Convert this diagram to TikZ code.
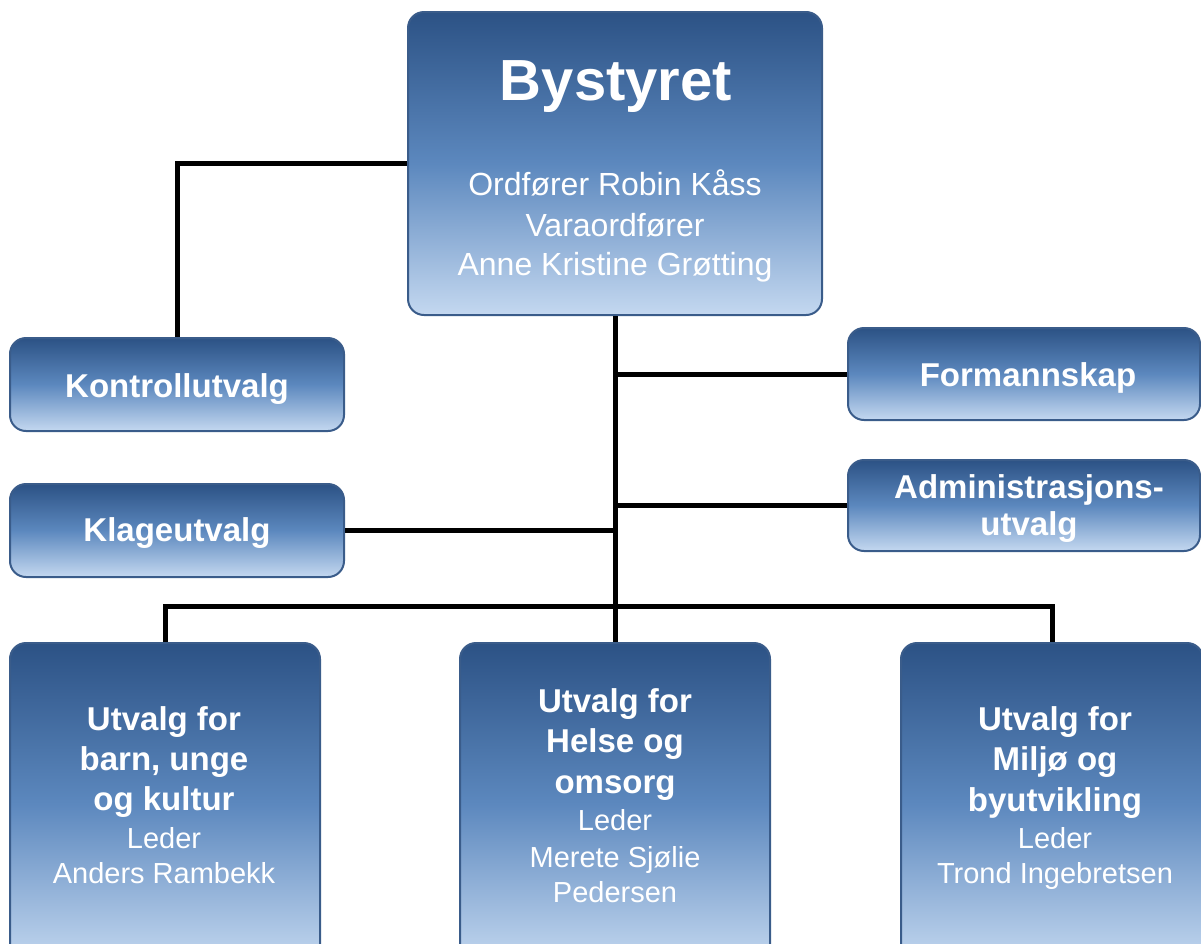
\documentclass[tikz,border=0pt]{standalone}
\usepackage{fontspec}
\setmainfont{Liberation Sans}
\definecolor{boxtop}{RGB}{44,82,133}
\definecolor{boxmid}{RGB}{92,136,190}
\definecolor{boxbot}{RGB}{196,216,240}
\definecolor{boxborder}{RGB}{58,92,138}
\newcommand\myTitle{\fontsize{58}{58}\selectfont\bfseries}
\newcommand\myBold{\fontsize{33}{33}\selectfont\bfseries}
\newcommand\myReg{\fontsize{29}{29}\selectfont}
\newcommand\myTop{\fontsize{32}{32}\selectfont}
\begin{document}
\begin{tikzpicture}[x=1pt,y=-1pt,
  box/.style={draw=boxborder, line width=2pt, rounded corners=16pt,
    top color=boxtop, bottom color=boxbot, middle color=boxmid, inner sep=0pt},
  conn/.style={draw=black, line width=5pt},
  txt/.style={text=white, inner sep=0pt, anchor=base}]
\useasboundingbox (0,0) rectangle (1201,943);
\clip (0,0) rectangle (1201,943);
% boxes
\node[box, minimum width=414pt, minimum height=303pt] (byst) at (615,163.5) {};
\node[box, minimum width=334pt, minimum height=93pt] (kontroll) at (177,384.5) {};
\node[box, minimum width=334pt, minimum height=93pt] (klage) at (177,530.5) {};
\node[box, minimum width=352pt, minimum height=92pt] (form) at (1024,374) {};
\node[box, minimum width=352pt, minimum height=91pt] (admin) at (1024,505.5) {};
\node[box, minimum width=310pt, minimum height=322pt] (left) at (165,804) {};
\node[box, minimum width=310pt, minimum height=322pt] (mid) at (615,804) {};
\node[box, minimum width=302pt, minimum height=322pt] (right) at (1052,804) {};
% connectors
\coordinate (bus) at (615,606);
\draw[conn] (byst.west) -| (kontroll.north);
\draw[conn] (byst.south) -- (mid.north);
\draw[conn] (form.west) -- (form.west -| byst.south);
\draw[conn] (admin.west) -- (admin.west -| byst.south);
\draw[conn] (klage.east) -- (klage.east -| byst.south);
\draw[conn] (left.north) |- (bus) -| (right.north);
% texts
\node[txt, font=\myTitle] (t1) at (616,100) {Bystyret};
\node[txt, font=\myTop] (t2) at (615,195) {Ordfører Robin Kåss};
\node[txt, font=\myTop] (t3) at (615,236) {Varaordfører};
\node[txt, font=\myTop] (t4) at (615,275) {Anne Kristine Grøtting};
\node[txt, font=\myBold] (t5) at (177,397) {Kontrollutvalg};
\node[txt, font=\myBold] (t6) at (177,541) {Klageutvalg};
\node[txt, font=\myBold] (t7) at (1028,386) {Formannskap};
\node[txt, font=\myBold] (t8) at (1029,498) {Administrasjons-};
\node[txt, font=\myBold] (t9) at (1029,535) {utvalg};
% bottom left
\node[txt, font=\myBold] (l1) at (164,730) {Utvalg for};
\node[txt, font=\myBold] (l2) at (164,770) {barn, unge};
\node[txt, font=\myBold] (l3) at (164,810) {og kultur};
\node[txt, font=\myReg] (l4) at (164,848) {Leder};
\node[txt, font=\myReg] (l5) at (164,883) {Anders Rambekk};
% bottom middle
\node[txt, font=\myBold] (m1) at (615,712) {Utvalg for};
\node[txt, font=\myBold] (m2) at (615,752) {Helse og};
\node[txt, font=\myBold] (m3) at (615,793) {omsorg};
\node[txt, font=\myReg] (m4) at (615,830) {Leder};
\node[txt, font=\myReg] (m5) at (615,867) {Merete Sjølie};
\node[txt, font=\myReg] (m6) at (615,902) {Pedersen};
% bottom right
\node[txt, font=\myBold] (r1) at (1055,730) {Utvalg for};
\node[txt, font=\myBold] (r2) at (1055,770) {Miljø og};
\node[txt, font=\myBold] (r3) at (1055,811) {byutvikling};
\node[txt, font=\myReg] (r4) at (1055,848) {Leder};
\node[txt, font=\myReg] (r5) at (1055,883) {Trond Ingebretsen};
\end{tikzpicture}
\end{document}
